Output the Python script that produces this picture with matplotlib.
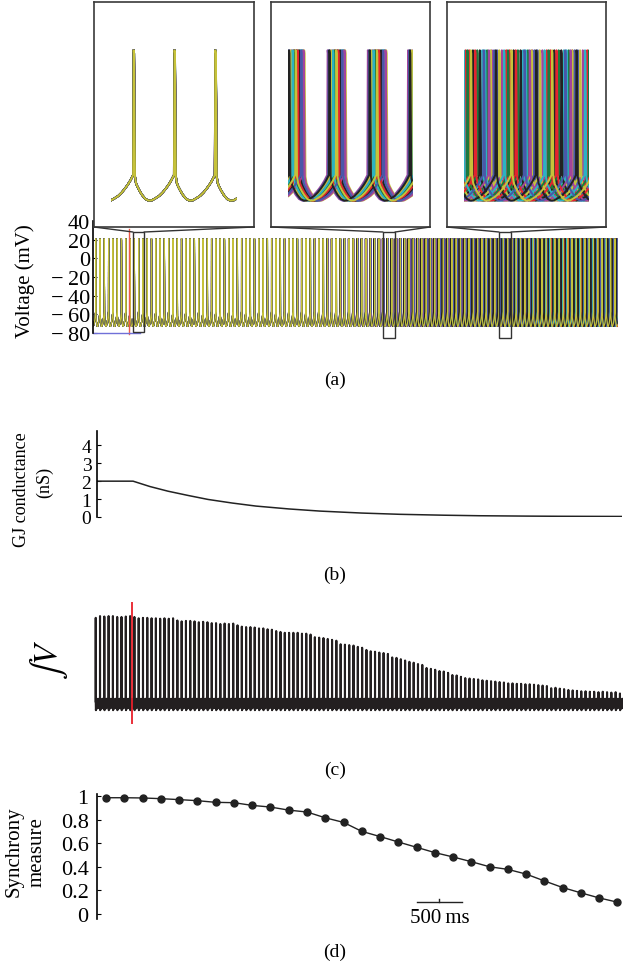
"""Gap-junction decoupling figure: voltage traces, GJ conductance, integrated V, synchrony."""

import matplotlib
matplotlib.use("Agg")
import matplotlib.pyplot as plt
from matplotlib.patches import Rectangle, ConnectionPatch
import numpy as np

plt.rcParams["font.family"] = ["Liberation Serif", "DejaVu Serif"]
plt.rcParams["mathtext.fontset"] = "stix"
plt.rcParams["font.size"] = 14

W, H = 628, 970

# ── data ─────────────────────────────────────────────────────────────────────
# (d) synchrony measure, one point every 200 ms
sync_time_ms = [100, 300, 500, 700, 900, 1100, 1300, 1500, 1700, 1900,
                2100, 2300, 2500, 2700, 2900, 3100, 3300, 3500, 3700, 3900,
                4100, 4300, 4500, 4700, 4900, 5100, 5300, 5500, 5700]
sync_value = [0.985, 0.985, 0.983, 0.977, 0.969, 0.960, 0.946, 0.943, 0.920, 0.906,
              0.880, 0.864, 0.815, 0.776, 0.700, 0.656, 0.610, 0.565, 0.520, 0.483,
              0.443, 0.400, 0.378, 0.338, 0.280, 0.224, 0.179, 0.136, 0.100]

# (b) gap-junction conductance (nS)
gj_time_ms = [0, 395, 580, 778, 1000, 1216, 1480, 1741, 2100, 2442, 2900,
              3318, 3800, 4195, 4700, 5071, 5750]
gj_ns = [2.0, 2.0, 1.70, 1.44, 1.20, 0.98, 0.78, 0.61, 0.45, 0.33, 0.22,
         0.15, 0.10, 0.07, 0.05, 0.04, 0.03]

# (a) single spike cycle (fraction of period, mV)
cycle_phase = [0.00, 0.012, 0.022, 0.045, 0.07, 0.10, 0.16, 0.22, 0.30, 0.38,
               0.46, 0.55, 0.64, 0.72, 0.80, 0.87, 0.93, 0.97, 1.00]
cycle_mv = [-57, 21, 19, -58, -62, -64, -67, -69.5, -72, -73,
            -72.8, -71.5, -70, -68, -65.5, -63, -60.5, -58.5, -57]
spike_period_ms = 47.0
first_spike_ms = 32.0
# relative firing offset of each cell once synchrony is lost
cell_offset = [-0.45, 0.38, -0.12, 0.27, -0.33, 0.05, 0.46, -0.22, 0.15, -0.04,
               0.33, -0.40, 0.21, -0.28, 0.42, -0.08, 0.10, -0.17, 0.30, -0.36, 0.0]
cell_colors = ["#a4449c", "#1a7a3e", "#e4232e", "#2bb3c2", "#4a57a8", "#222222", "#c6c23a"]

# (c) integrated voltage: relative height of each population spike
intv_height = [0.98, 1.00, 0.995, 1.00, 1.00, 0.99, 0.99, 0.995, 1.00, 0.99,
               0.975, 0.98, 0.98, 0.975, 0.975, 0.97, 0.975, 0.97, 0.975, 0.95,
               0.94, 0.945, 0.945, 0.94, 0.93, 0.935, 0.93, 0.92, 0.92, 0.91,
               0.915, 0.91, 0.915, 0.895, 0.88, 0.875, 0.875, 0.87, 0.86, 0.86,
               0.85, 0.845, 0.83, 0.82, 0.81, 0.81, 0.81, 0.81, 0.80, 0.80,
               0.79, 0.76, 0.755, 0.75, 0.74, 0.73, 0.72, 0.68, 0.675, 0.67,
               0.665, 0.65, 0.64, 0.615, 0.60, 0.595, 0.585, 0.58, 0.57, 0.53,
               0.525, 0.51, 0.495, 0.48, 0.47, 0.455, 0.445, 0.41, 0.40, 0.39,
               0.375, 0.37, 0.355, 0.33, 0.325, 0.31, 0.295, 0.29, 0.285, 0.28,
               0.27, 0.265, 0.26, 0.255, 0.25, 0.245, 0.235, 0.235, 0.23, 0.23,
               0.225, 0.225, 0.22, 0.215, 0.21, 0.205, 0.18, 0.185, 0.175, 0.17,
               0.16, 0.155, 0.15, 0.145, 0.145, 0.14, 0.14, 0.135, 0.14, 0.135,
               0.13, 0.135, 0.12]
intv_phase = [0.00, 0.012, 0.028, 0.06, 0.22, 0.40, 0.56, 0.72, 0.86, 1.00]
intv_shape = [0.03, 1.00, 0.00, -0.07, 0.05, -0.05, 0.06, -0.04, 0.05, 0.03]

inset_center_ms = [455, 3198, 4468]
inset_span_ms = 184.0
rect_ms = [(394, 515), (3132, 3264), (4403, 4534)]
rect_bottom_mv = [-79, -85.4, -85.4]
rect_top_mv = 28.2
volt_ticks = [40, 20, 0, -20, -40, -60, -80]


def fig_box(x0, y0, x1, y1):
    return [x0 / W, 1 - y1 / H, (x1 - x0) / W, (y1 - y0) / H]


def cell_trace(j, t_start, t_end):
    base = first_spike_ms - 2 * spike_period_ms + spike_period_ms * np.arange(len(intv_height) + 5)
    sync_here = np.interp(base, sync_time_ms, sync_value)
    spread = spike_period_ms * 2.24 * (1 - sync_here) ** 1.53
    st = base + cell_offset[j] * spread
    ph = np.asarray(cycle_phase)
    ts, vs = [], []
    for k in range(len(st) - 1):
        ts.append(st[k] + ph[:-1] * (st[k + 1] - st[k]))
        vs.append(np.asarray(cycle_mv[:-1]))
    t = np.concatenate(ts)
    v = np.concatenate(vs)
    keep = (t >= t_start) & (t <= t_end)
    return t[keep], v[keep]


def left_axis_only(ax, pad):
    for s in ["top", "right", "bottom"]:
        ax.spines[s].set_visible(False)
    ax.spines["left"].set_linewidth(1.2)
    ax.set_xticks([])
    ax.tick_params(axis="y", direction="in", length=3, pad=pad)


fig = plt.figure(figsize=(W / 100, H / 100), dpi=100)

# ── (a) voltage traces ───────────────────────────────────────────────────────
ax_a = fig.add_axes(fig_box(93, 222, 622, 334))
traces = [cell_trace(j, -44, 5700) for j in range(len(cell_offset))]
for j, (t, v) in enumerate(traces):
    ax_a.plot(t, v, color=cell_colors[j % len(cell_colors)], lw=0.8)
ax_a.set_xlim(-44, 5750)
ax_a.set_ylim(-80, 40)
ax_a.set_yticks(volt_ticks)
ax_a.set_yticklabels([f"{v}".replace("-", "\u2212\u2009") for v in volt_ticks])
left_axis_only(ax_a, pad=2)
ax_a.tick_params(axis="y", labelsize=16)
ax_a.plot([350, 350], [-81, 31], color="#f05a48", lw=1.0, clip_on=False)
ax_a.plot([-44, 470], [-80, -80], color="#7070d8", lw=1.0, clip_on=False)
fig.text(25 / W, 1 - 281 / H, "Voltage (mV)", rotation=90, ha="center", va="center",
         fontsize=15)

inset_px = [(94, 254), (271, 430), (447, 606)]
for (x0, x1), c, (r0, r1), rb in zip(inset_px, inset_center_ms, rect_ms, rect_bottom_mv):
    ax_i = fig.add_axes(fig_box(x0, 3, x1, 228))
    lo, hi = c - inset_span_ms / 2, c + inset_span_ms / 2
    clip = Rectangle((lo + 0.105 * inset_span_ms, -200), 0.79 * inset_span_ms, 400,
                     transform=ax_i.transData)
    for j, (t, v) in enumerate(traces):
        sel = (t > lo - 60) & (t < hi + 60)
        ln, = ax_i.plot(t[sel], v[sel], color=cell_colors[j % len(cell_colors)], lw=1.4)
        ln.set_clip_path(clip)
    ax_i.set_xlim(lo, hi)
    ax_i.set_ylim(-89.5, 51.2)
    ax_i.set_xticks([])
    ax_i.set_yticks([])
    for s in ax_i.spines.values():
        s.set_color("#3a3a3a")
        s.set_linewidth(1.2)
    ax_a.add_patch(Rectangle((r0, rb), r1 - r0, rect_top_mv - rb, fill=False,
                             ec="#333333", lw=1.0, clip_on=False, zorder=5))
    for xa, xb in [(0, r0), (1, r1)]:
        fig.add_artist(ConnectionPatch(xyA=(xa, 0), coordsA=ax_i.transAxes,
                                       xyB=(xb, rect_top_mv), coordsB=ax_a.transData,
                                       color="#333333", lw=1.0))
fig.text(335 / W, 1 - 380 / H, "(a)", ha="center", va="center")

# ── (b) GJ conductance ───────────────────────────────────────────────────────
ax_b = fig.add_axes(fig_box(97, 432, 622, 518))
ax_b.plot(gj_time_ms, gj_ns, color="#222222", lw=1.1)
ax_b.set_xlim(0, 5750)
ax_b.set_ylim(0, 4.8)
ax_b.set_yticks([0, 1, 2, 3, 4])
left_axis_only(ax_b, pad=4)
ax_b.tick_params(axis="y", labelsize=14)
fig.text(22 / W, 1 - 490 / H, "GJ conductance", rotation=90, ha="center", va="center",
         fontsize=13)
fig.text(45 / W, 1 - 482 / H, "(nS)", rotation=90, ha="center", va="center",
         fontsize=13)
fig.text(335 / W, 1 - 575 / H, "(b)", ha="center", va="center")

# ── (c) integrated voltage ───────────────────────────────────────────────────
ax_c = fig.add_axes(fig_box(90, 603, 623, 725))
pk = first_spike_ms - spike_period_ms + spike_period_ms * np.arange(len(intv_height) + 1)
ph = np.asarray(intv_phase)
ct, cv = [], []
for k, h in enumerate(intv_height):
    shape = np.array(intv_shape)
    shape[1] = h
    ct.append(pk[k] + ph[:-1] * spike_period_ms)
    cv.append(shape[:-1])
ax_c.plot(np.concatenate(ct), np.concatenate(cv), color="#231f20", lw=1.5)
ax_c.axvline(385, color="#e8202a", lw=1.3)
ax_c.set_xlim(-77, 5753)
ax_c.set_ylim(-0.227, 1.16)
ax_c.axis("off")
fig.text(48 / W, 1 - 660 / H, r"$\int V$", rotation=90, ha="center", va="center",
         fontsize=24)
fig.text(335 / W, 1 - 770 / H, "(c)", ha="center", va="center")

# ── (d) synchrony measure ────────────────────────────────────────────────────
ax_d = fig.add_axes(fig_box(97, 794.6, 622, 919.7))
ax_d.plot(sync_time_ms, sync_value, color="#222222", lw=1.0, marker="o",
          markersize=5, markerfacecolor="#222222")
ax_d.set_xlim(0, 5750)
ax_d.set_ylim(-0.04, 1.02)
ax_d.set_yticks([0, 0.2, 0.4, 0.6, 0.8, 1])
ax_d.set_yticklabels(["0", "0.2", "0.4", "0.6", "0.8", "1"])
left_axis_only(ax_d, pad=6)
ax_d.tick_params(axis="y", labelsize=16)
ax_d.plot([3500, 4000], [0.10, 0.10], color="#222222", lw=1.0)
ax_d.plot([3750, 3750], [0.10, 0.13], color="#222222", lw=1.0)
ax_d.text(3750, -0.03, "500\u2009ms", ha="center", va="center", fontsize=15)
fig.text(14 / W, 1 - 852 / H, "Synchrony", rotation=90, ha="center", va="center",
         fontsize=15)
fig.text(37 / W, 1 - 852 / H, "measure", rotation=90, ha="center", va="center",
         fontsize=15)
fig.text(335 / W, 1 - 952 / H, "(d)", ha="center", va="center")

fig.savefig("out.png", dpi=100)
